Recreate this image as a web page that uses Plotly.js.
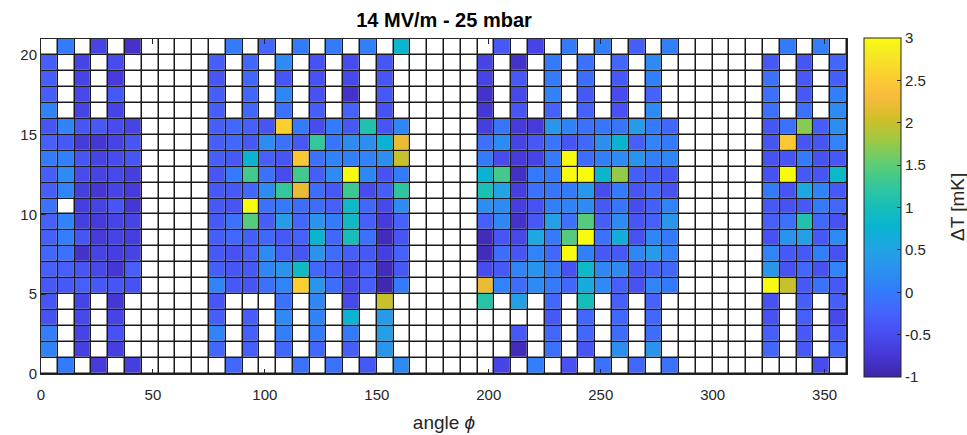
<!DOCTYPE html>
<html>
<head>
<meta charset="utf-8">
<script src="https://cdn.plot.ly/plotly-3.0.1.min.js"></script>
<style>html,body{margin:0;padding:0;background:#fff;}#chart{width:967px;height:435px;}</style>
</head>
<body>
<div id="chart"></div>
<script>
const _ = null;
// cell centres (angle phi, degrees) and heights
const angles = [3.75, 11.25, 18.75, 26.25, 33.75, 41.25, 48.75, 56.25, 63.75, 71.25, 78.75, 86.25,
  93.75, 101.25, 108.75, 116.25, 123.75, 131.25, 138.75, 146.25, 153.75, 161.25, 168.75, 176.25,
  183.75, 191.25, 198.75, 206.25, 213.75, 221.25, 228.75, 236.25, 243.75, 251.25, 258.75, 266.25,
  273.75, 281.25, 288.75, 296.25, 303.75, 311.25, 318.75, 326.25, 333.75, 341.25, 348.75, 356.25];
const heights = [0.5, 1.5, 2.5, 3.5, 4.5, 5.5, 6.5, 7.5, 8.5, 9.5, 10.5, 11.5, 12.5, 13.5, 14.5, 15.5, 16.5, 17.5, 18.5, 19.5, 20.5];

// Delta T [mK], one array per row (row 0 = bottom), 48 angle cells each
const r20 = [_,0.0,_,-0.6,_,-0.8, _,_,_,_, _,0.0,_,-0.2,_,0.0,_,0.0,_,0.05,_,0.8, _,_,_,_, _,-0.35,_,-0.6,_,0.0,_,0.05,_,-0.3,_,0.05, _,_,_,_,_, _,0.0,_,0.05,_];
const r19 = [-0.3,_,-0.6,_,-0.5,_, _,_,_,_, -0.3,_,-0.2,_,0.2,_,-0.45,_,-0.5,_,-0.4,_, _,_,_,_, -0.6,_,-0.8,_,0.0,_,-0.1,_,-0.2,_,0.2,_, _,_,_,_,_, -0.35,_,-0.4,_,-0.2];
const r18 = [-0.3,_,-0.6,_,-0.7,_, _,_,_,_, -0.4,_,-0.2,_,-0.4,_,-0.45,_,-0.55,_,-0.4,_, _,_,_,_, -0.6,_,-0.35,_,0.0,_,-0.15,_,-0.35,_,0.05,_, _,_,_,_,_, -0.1,_,-0.35,_,-0.3];
const r17 = [-0.3,_,-0.55,_,-0.35,_, _,_,_,_, -0.3,_,-0.2,_,0.15,_,-0.45,_,-0.8,_,-0.35,_, _,_,_,_, -0.8,_,-0.55,_,0.1,_,-0.35,_,-0.5,_,-0.25,_, _,_,_,_,_, -0.1,_,-0.35,_,0.05];
const r16 = [0.1,_,-0.6,_,-0.6,_, _,_,_,_, -0.3,_,-0.2,_,-0.1,_,-0.3,_,-0.25,_,-0.45,_, _,_,_,_, -0.75,_,-0.4,_,-0.25,_,-0.25,_,-0.45,_,0.2,_, _,_,_,_,_, -0.1,_,-0.1,_,0.2];
const r15 = [-0.4,0.1,-0.4,-0.35,-0.5,-0.6, _,_,_,_, -0.3,-0.2,-0.3,-0.4,2.55,0.0,-0.5,0.0,-0.35,1.1,-0.4,0.15, _,_,_,_, -0.65,-0.05,-0.7,-0.7,0.35,0.1,-0.1,-0.05,-0.05,0.4,0.0,-0.2, _,_,_,_,_, -0.4,-0.1,1.7,-0.3,0.25];
const r14 = [-0.3,-0.35,-0.7,-0.75,-0.6,-0.4, _,_,_,_, -0.3,-0.2,-0.35,0.2,-0.1,-0.35,1.25,-0.05,0.2,0.25,0.75,2.2, _,_,_,_, -0.1,0.2,-0.6,-0.35,-0.05,-0.4,-0.2,0.25,0.75,-0.3,0.1,0.0, _,_,_,_,_, -0.4,2.5,-0.4,-0.4,0.1];
const r13 = [0.0,0.05,-0.4,-0.6,-0.5,-0.4, _,_,_,_, -0.3,-0.35,0.75,-0.3,-0.4,2.45,-0.1,0.1,0.05,0.1,0.25,2.0, _,_,_,_, 0.0,-0.5,-0.7,-0.6,0.0,3.0,-0.15,0.05,0.2,0.3,0.05,0.15, _,_,_,_,_, -0.45,-0.4,0.0,-0.45,-0.35];
const r12 = [-0.3,0.2,-0.5,-0.6,-0.55,-0.65, _,_,_,_, -0.4,0.0,1.35,-0.1,-0.5,1.35,-0.3,0.2,3.0,0.15,-0.45,0.0, _,_,_,_, 0.75,1.35,-0.85,0.0,0.0,3.0,3.0,0.8,1.75,-0.3,-0.35,-0.4, _,_,_,_,_, -0.45,3.0,-0.35,-0.4,0.85];
const r11 = [-0.3,0.1,-0.65,-0.75,-0.6,-0.7, _,_,_,_, -0.35,-0.35,-0.2,0.2,1.25,2.2,-0.15,-0.35,1.3,-0.5,-0.3,1.2, _,_,_,_, 1.05,0.5,-0.65,-0.1,-0.05,0.0,0.35,-0.5,0.0,-0.4,-0.2,-0.45, _,_,_,_,_, 0.0,-0.4,0.55,0.1,-0.35];
const r10 = [-0.1,_,-0.65,-0.6,-0.4,-0.75, _,_,_,_, -0.35,-0.4,3.0,-0.1,0.0,-0.15,-0.15,-0.3,0.85,-0.2,-0.55,0.2, _,_,_,_, 0.25,0.2,-0.65,-0.45,0.05,0.1,0.2,-0.35,-0.05,-0.5,-0.3,0.1, _,_,_,_,_, -0.35,-0.45,-0.35,0.0,-0.2];
const r9  = [-0.3,0.1,-0.65,-0.7,-0.6,-0.6, _,_,_,_, -0.35,-0.1,1.45,-0.3,0.4,-0.2,0.3,0.0,0.9,-0.3,-0.7,-0.25, _,_,_,_, -0.3,0.15,-0.8,-0.35,0.45,-0.1,1.45,-0.3,0.2,-0.4,-0.3,0.35, _,_,_,_,_, -0.3,-0.1,1.1,-0.2,-0.45];
const r8  = [-0.3,0.05,-0.4,-0.7,-0.6,-0.65, _,_,_,_, -0.3,-0.2,-0.3,-0.2,-0.35,-0.25,0.8,-0.2,1.0,-0.1,-0.9,-0.4, _,_,_,_, -0.9,-0.4,-0.55,0.55,0.0,1.45,3.0,-0.1,0.65,-0.45,0.15,0.0, _,_,_,_,_, -0.45,0.3,0.45,-0.35,0.2];
const r7  = [-0.2,-0.1,-0.8,-0.6,-0.65,-0.6, _,_,_,_, -0.35,-0.45,-0.3,0.2,-0.3,-0.4,0.3,-0.15,-0.3,-0.35,-0.65,-0.25, _,_,_,_, -0.9,-0.15,-0.4,0.1,-0.2,3.0,0.05,-0.35,-0.35,0.15,0.4,0.1, _,_,_,_,_, 0.1,-0.35,-0.35,0.05,-0.45];
const r6  = [-0.3,-0.3,-0.4,-0.55,-0.75,-0.3, _,_,_,_, -0.3,-0.4,-0.35,0.15,0.3,0.9,-0.2,-0.3,-0.55,-0.3,-0.9,-0.35, _,_,_,_, -0.5,-0.35,0.1,0.3,0.05,-0.45,0.85,0.15,0.2,-0.35,-0.25,-0.2, _,_,_,_,_, 0.35,-0.45,-0.2,-0.45,0.1];
const r5  = [-0.35,-0.35,-0.3,-0.35,-0.4,-0.45, _,_,_,_, 0.1,-0.35,-0.4,-0.1,0.1,2.55,0.35,-0.15,-0.55,-0.3,-0.95,0.0, _,_,_,_, 2.2,0.1,-0.15,0.2,0.0,-0.2,0.6,0.2,-0.3,-0.45,0.1,0.0, _,_,_,_,_, 3.0,2.0,-0.35,-0.1,-0.35];
const r4  = [-0.4,_,-0.6,_,-0.75,_, _,_,_,_, -0.4,_,_,_,-0.1,_,0.15,_,-0.55,_,2.0,_, _,_,_,_, 1.15,_,0.45,_,-0.2,_,1.0,_,-0.3,_,-0.25,_, _,_,_,_,_, -0.45,_,-0.3,_,-0.3];
const r3  = [-0.45,_,-0.55,_,-0.6,_, _,_,_,_, -0.3,_,-0.3,_,0.2,_,0.1,_,0.75,_,0.4,_, _,_,_,_, _,_,_,_,-0.35,_,-0.2,_,-0.2,_,-0.2,_, _,_,_,_,_, -0.45,_,-0.3,_,-0.55];
const r2  = [0.05,_,-0.6,_,-0.45,_, _,_,_,_, 0.1,_,-0.3,_,0.05,_,0.0,_,0.0,_,0.45,_, _,_,_,_, _,_,-0.35,_,-0.2,_,-0.2,_,-0.15,_,-0.15,_, _,_,_,_,_, -0.3,_,-0.35,_,-0.35];
const r1  = [0.1,_,-0.65,_,-0.65,_, _,_,_,_, -0.2,_,-0.3,_,-0.2,_,-0.2,_,-0.3,_,0.35,_, _,_,_,_, _,_,-0.9,_,-0.1,_,-0.4,_,0.25,_,0.3,_, _,_,_,_,_, -0.2,_,-0.35,_,-0.2];
const r0  = [_,0.0,_,-0.7,_,-0.65, _,_,_,_, _,-0.2,_,_,_,-0.1,_,-0.1,_,-0.35,_,0.2, _,_,_,_, _,-0.6,_,0.05,_,-0.45,_,-0.1,_,-0.2,_,-0.1, _,_,_,_,_, _,_,_,-0.5,_];

const xTicks = [0, 50, 100, 150, 200, 250, 300, 350];
const yTicks = [0, 5, 10, 15, 20];
const cbTicks = [-1, -0.5, 0, 0.5, 1, 1.5, 2, 2.5, 3];
const cbLabels = ['-1', '-0.5', '0', '0.5', '1', '1.5', '2', '2.5', '3'];

const z = [r0, r1, r2, r3, r4, r5, r6, r7, r8, r9, r10, r11, r12, r13, r14, r15, r16, r17, r18, r19, r20];
const zBase = z.map(row => row.map(() => 0));

const parula = [
  [0.000, 'rgb(62,38,168)'], [0.0635, 'rgb(69,55,213)'], [0.127, 'rgb(72,77,240)'],
  [0.1905, 'rgb(69,99,253)'], [0.254, 'rgb(50,124,252)'], [0.3175, 'rgb(43,145,239)'],
  [0.381, 'rgb(32,165,227)'], [0.444, 'rgb(8,181,208)'], [0.508, 'rgb(25,191,182)'],
  [0.571, 'rgb(55,200,151)'], [0.635, 'rgb(100,205,111)'], [0.698, 'rgb(157,201,67)'],
  [0.762, 'rgb(209,191,39)'], [0.825, 'rgb(248,186,61)'], [0.889, 'rgb(252,207,48)'],
  [0.952, 'rgb(245,233,36)'], [1.000, 'rgb(249,251,14)']
];

const FONT = 'Liberation Sans, Arial, Helvetica, sans-serif';
const INK = '#262626';
const GAP = 1.5;

const base = {
  type: 'heatmap', x: angles, y: heights, z: zBase,
  colorscale: [[0, '#ffffff'], [1, '#ffffff']], zmin: 0, zmax: 1,
  showscale: false, xgap: GAP, ygap: GAP, hoverinfo: 'skip'
};
const data = {
  type: 'heatmap', x: angles, y: heights, z: z,
  colorscale: parula, zmin: -1, zmax: 3,
  xgap: GAP, ygap: GAP, hoverongaps: false,
  colorbar: {
    x: 1.0211, xanchor: 'left', xpad: 0, ypad: 0,
    y: 0.497, yanchor: 'middle',
    thickness: 37, thicknessmode: 'pixels',
    len: 339, lenmode: 'pixels',
    outlinewidth: 1, outlinecolor: INK,
    ticks: 'inside', ticklen: 4, tickcolor: INK,
    tickvals: cbTicks, ticktext: cbLabels,
    tickfont: {family: FONT, size: 15, color: INK}
  }
};

const axisCommon = {
  ticks: 'inside', ticklen: 5, tickcolor: INK, tickwidth: 1,
  showline: true, linecolor: INK, linewidth: 1, mirror: 'allticks',
  showgrid: false, zeroline: false,
  tickfont: {family: FONT, size: 15, color: INK}
};

const layout = {
  width: 967, height: 435,
  margin: {l: 41, r: 120, t: 39, b: 61},
  paper_bgcolor: '#ffffff', plot_bgcolor: '#1a1a1a',
  title: {text: '<b>14 MV/m - 25 mbar</b>', x: 0.5, xref: 'paper', y: 0.953, yref: 'container', yanchor: 'middle',
          font: {family: FONT, size: 20, color: '#000000'}},
  xaxis: Object.assign({}, axisCommon, {range: [0, 360], tickvals: xTicks, ticklabelstandoff: 7,
          title: {text: 'angle <i>ϕ</i>', standoff: 13, font: {family: FONT, size: 19, color: INK}}}),
  yaxis: Object.assign({}, axisCommon, {range: [0, 21], tickvals: yTicks}),
  annotations: [{
    text: 'ΔT [mK]', textangle: -90, showarrow: false,
    xref: 'paper', yref: 'paper', x: 1.1365, y: 0.4985, xanchor: 'center', yanchor: 'middle',
    font: {family: FONT, size: 19, color: INK}
  }],
  showlegend: false
};

Plotly.newPlot('chart', [base, data], layout, {displayModeBar: false, staticPlot: true});
</script>
</body>
</html>
